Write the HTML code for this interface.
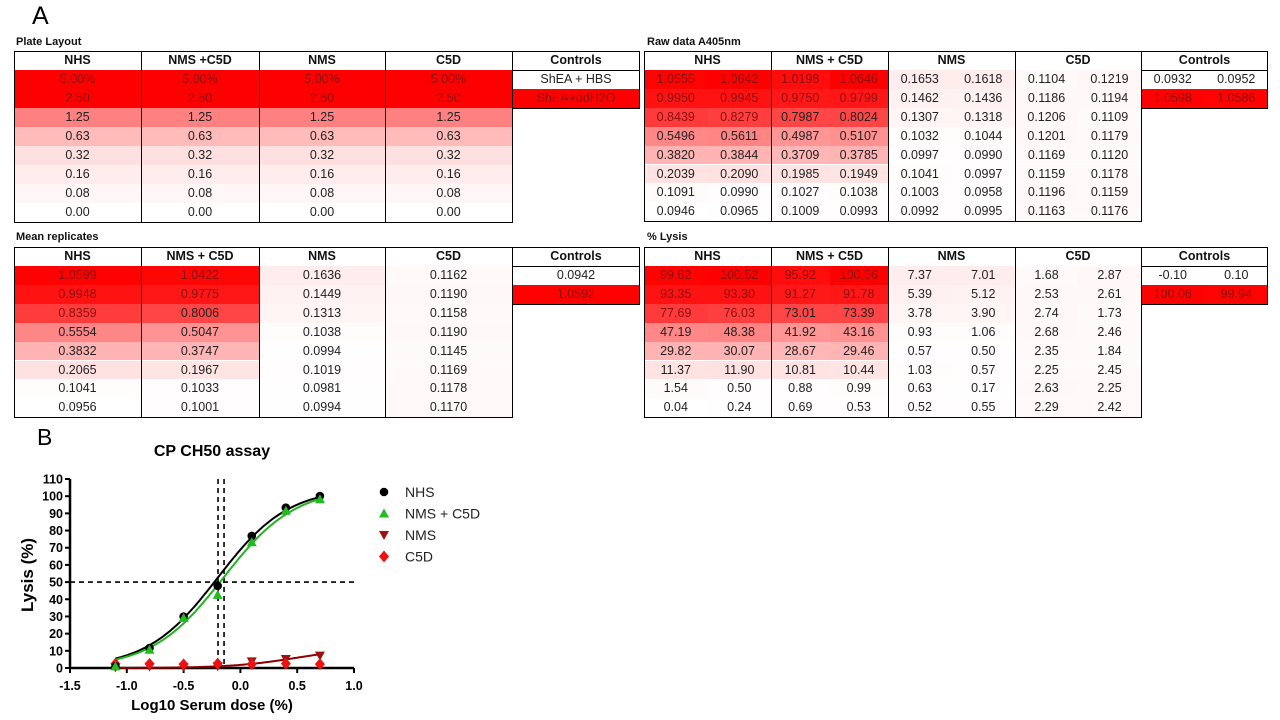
<!DOCTYPE html>
<html><head><meta charset="utf-8">
<style>
body{margin:0;width:1280px;height:720px;background:#fff;position:relative;overflow:hidden;font-family:"Liberation Sans",sans-serif}
.c{position:absolute;box-sizing:border-box;text-align:center;font-size:12.5px;color:#222;line-height:19px;white-space:nowrap}
.h{font-weight:bold;color:#111}
.lbl{position:absolute;font-size:11px;font-weight:bold;color:#111}
.box{position:absolute;border:1px solid #000;box-sizing:border-box;pointer-events:none}
</style></head><body>
<div style="position:absolute;left:32px;top:2px;font-size:25px">A</div>
<div style="position:absolute;left:37px;top:424px;font-size:23px">B</div>
<div class="lbl" style="left:16px;top:36px">Plate Layout</div>
<div class="lbl" style="left:647px;top:36px">Raw data A405nm</div>
<div class="lbl" style="left:16px;top:231px">Mean replicates</div>
<div class="lbl" style="left:647px;top:231px">% Lysis</div>
<div id="tables"></div>

<svg id="chart" width="1280" height="720" style="position:absolute;left:0;top:0" font-family="Liberation Sans, sans-serif"></svg>

<script>
// ---------- table data ----------
const groups = ["NHS","NMS + C5D","NMS","C5D"];
const plateDoses = ["5.00%","2.50","1.25","0.63","0.32","0.16","0.08","0.00"];
const plateShade = [1,1,0.5,0.27,0.12,0.07,0.03,0];
const plateControls = ["ShEA + HBS","ShEA+ddH2O"];
const rawNHS = [[1.0555,1.0642],[0.9950,0.9945],[0.8439,0.8279],[0.5496,0.5611],[0.3820,0.3844],[0.2039,0.2090],[0.1091,0.0990],[0.0946,0.0965]];
const rawNMSC5D = [[1.0198,1.0646],[0.9750,0.9799],[0.7987,0.8024],[0.4987,0.5107],[0.3709,0.3785],[0.1985,0.1949],[0.1027,0.1038],[0.1009,0.0993]];
const rawNMS = [[0.1653,0.1618],[0.1462,0.1436],[0.1307,0.1318],[0.1032,0.1044],[0.0997,0.0990],[0.1041,0.0997],[0.1003,0.0958],[0.0992,0.0995]];
const rawC5D = [[0.1104,0.1219],[0.1186,0.1194],[0.1206,0.1109],[0.1201,0.1179],[0.1169,0.1120],[0.1159,0.1178],[0.1196,0.1159],[0.1163,0.1176]];
const rawControls = [[0.0932,0.0952],[1.0598,1.0586]];
const meanNHS = [1.0599,0.9948,0.8359,0.5554,0.3832,0.2065,0.1041,0.0956];
const meanNMSC5D = [1.0422,0.9775,0.8006,0.5047,0.3747,0.1967,0.1033,0.1001];
const meanNMS = [0.1636,0.1449,0.1313,0.1038,0.0994,0.1019,0.0981,0.0994];
const meanC5D = [0.1162,0.1190,0.1158,0.1190,0.1145,0.1169,0.1178,0.1170];
const meanControls = [0.0942,1.0592];
const lysNHS = [[99.62,100.52],[93.35,93.30],[77.69,76.03],[47.19,48.38],[29.82,30.07],[11.37,11.90],[1.54,0.50],[0.04,0.24]];
const lysNMSC5D = [[95.92,100.56],[91.27,91.78],[73.01,73.39],[41.92,43.16],[28.67,29.46],[10.81,10.44],[0.88,0.99],[0.69,0.53]];
const lysNMS = [[7.37,7.01],[5.39,5.12],[3.78,3.90],[0.93,1.06],[0.57,0.50],[1.03,0.57],[0.63,0.17],[0.52,0.55]];
const lysC5D = [[1.68,2.87],[2.53,2.61],[2.74,1.73],[2.68,2.46],[2.35,1.84],[2.25,2.45],[2.63,2.25],[2.29,2.42]];
const lysControls = [[-0.10,0.10],[100.06,99.94]];

const T = document.getElementById('tables');
function heat(t){t=Math.max(0,Math.min(1,t));const g=Math.round(255*(1-t));return `rgb(255,${g},${g})`;}
function cell(x,y,w,h,txt,bg,name,bold,col){
  const d=document.createElement('div');
  d.className='c'+(bold?' h':'');
  d.style.cssText=`left:${x}px;top:${y}px;width:${w}px;height:${h}px;background:${bg||'transparent'};line-height:${h}px;`+(col?`color:${col};`:'');
  d.textContent=txt;
  
  
  T.appendChild(d);
}
function box(x,y,w,h,name){
  const d=document.createElement('div');d.className='box';
  d.style.cssText=`left:${x}px;top:${y}px;width:${w}px;height:${h}px`;
  
  
  T.appendChild(d);
}
function txtCol(t){return t>0.75?'#8a1010':'#222';}

const colX=[14,141,259,385,512,640];
function singleTable(top,rowH,headers,getVal,getT,ctrl,ctrlT,prefix){
  const hh=19;
  for(let g=0;g<5;g++){
    cell(colX[g],top,colX[g+1]-colX[g],hh,headers[g],'#fff',prefix+'-header-'+g,true);
  }
  for(let r=0;r<8;r++){
    for(let g=0;g<4;g++){
      const t=getT(g,r);
      cell(colX[g],top+hh+r*rowH,colX[g+1]-colX[g],rowH,getVal(g,r),heat(t),prefix+'-cell',false,txtCol(t));
    }
  }
  for(let r=0;r<2;r++){
    cell(colX[4],top+hh+r*rowH,colX[5]-colX[4],rowH,ctrl[r],heat(ctrlT[r]),prefix+'-control-cell',false,txtCol(ctrlT[r]));
  }
  for(let g=0;g<4;g++){box(colX[g],top,colX[g+1]-colX[g]+1,hh+8*rowH+1,prefix+'-column-border');}
  box(colX[4],top,colX[5]-colX[4],hh+1,prefix+'-controls-header-border');
  box(colX[4],top+hh,colX[5]-colX[4],2*rowH+1,prefix+'-controls-border');
}
const hdr=["NHS","NMS +C5D","NMS","C5D","Controls"];
singleTable(51,19,hdr,(g,r)=>plateDoses[r],(g,r)=>plateShade[r],plateControls,[0,1],'plate');
const means=[meanNHS,meanNMSC5D,meanNMS,meanC5D];
const mn=0.0942,mx=1.0646;
singleTable(247,18.9,["NHS","NMS + C5D","NMS","C5D","Controls"],(g,r)=>means[g][r].toFixed(4),(g,r)=>(means[g][r]-mn)/(mx-mn),meanControls.map(v=>v.toFixed(4)),meanControls.map(v=>(v-mn)/(mx-mn)),'mean');

const pX=[644,771,888,1015,1141,1268];
function pairTable(top,rowH,sets,ctrl,lo,hi,dec,prefix){
  const hh=19;
  for(let g=0;g<5;g++) cell(pX[g],top,pX[g+1]-pX[g],hh,["NHS","NMS + C5D","NMS","C5D","Controls"][g],'#fff',prefix+'-header-'+g,true);
  const all=sets.concat([ctrl]);
  for(let g=0;g<5;g++){
    const w=(pX[g+1]-pX[g])/2;
    const rows=g<4?8:2;
    for(let r=0;r<rows;r++)for(let k=0;k<2;k++){
      const v=all[g][r][k];const t=(v-lo)/(hi-lo);
      cell(pX[g]+k*w,top+hh+r*rowH,w,rowH,v.toFixed(dec),heat(t),prefix+'-cell',false,txtCol(t));
    }
  }
  for(let g=0;g<4;g++) box(pX[g],top,pX[g+1]-pX[g]+1,hh+8*rowH+1,prefix+'-column-border');
  box(pX[4],top,pX[5]-pX[4],hh+1,prefix+'-controls-header-border');
  box(pX[4],top+hh,pX[5]-pX[4],2*rowH+1,prefix+'-controls-border');
}
pairTable(51,18.9,[rawNHS,rawNMSC5D,rawNMS,rawC5D],rawControls,0.0932,1.0646,4,'raw');
pairTable(247,18.9,[lysNHS,lysNMSC5D,lysNMS,lysC5D],lysControls,-0.1,100.56,2,'lysis');
</script>

<script>
// ---------- chart data ----------
const xDoses = [-1.1,-0.8,-0.5,-0.2,0.1,0.4,0.7];
const nhsLysis = [1.02,11.64,29.95,47.79,76.85,93.33,100.07];
const nmsC5dLysis = [0.94,10.63,29.07,42.54,73.20,91.53,98.24];
const nmsLysis = [0.40,0.80,0.54,1.00,3.84,5.26,7.19];
const c5dLysis = [2.44,2.40,2.10,2.57,2.24,2.57,2.28];
// 4PL fit params: [bottom, top, logEC50, hill]
const nhsFit = [0,105,-0.2,1.4];
const nmsC5dFit = [0,105,-0.15,1.38];
const nmsFit = [0,12,0.5,1.5];
const ec50Lines = [-0.197,-0.144];
const xTicks = [-1.5,-1.0,-0.5,0.0,0.5,1.0];
const yTicks = [0,10,20,30,40,50,60,70,80,90,100,110];

const svg=document.getElementById('chart');
const NS='http://www.w3.org/2000/svg';
const X0=70,X1=354,Y0=668,Y1=479;
const sx=v=>X0+(v-(-1.5))/(2.5)*(X1-X0);
const sy=v=>Y0-v/110*(Y0-Y1);
function el(tag,attrs,name,txt){const e=document.createElementNS(NS,tag);for(const k in attrs)e.setAttribute(k,attrs[k]);
  
  
  if(txt!==undefined)e.textContent=txt;svg.appendChild(e);return e;}
el('text',{x:212,y:456,'text-anchor':'middle','font-size':16,'font-weight':'bold'},'chart-title','CP CH50 assay');
el('line',{x1:X0,y1:Y0,x2:X1,y2:Y0,stroke:'#000','stroke-width':2.5},'x-axis');
el('line',{x1:X0,y1:Y0+1,x2:X0,y2:Y1,stroke:'#000','stroke-width':2.5},'y-axis');
yTicks.forEach(t=>{el('line',{x1:X0-5,y1:sy(t),x2:X0,y2:sy(t),stroke:'#000','stroke-width':2},'y-tick');
  el('text',{x:X0-7,y:sy(t)+4.5,'text-anchor':'end','font-size':12.5,'font-weight':'bold'},'y-tick-label',String(t));});
xTicks.forEach(t=>{el('line',{x1:sx(t),y1:Y0,x2:sx(t),y2:Y0+5,stroke:'#000','stroke-width':2},'x-tick');
  el('text',{x:sx(t),y:Y0+22,'text-anchor':'middle','font-size':12.5,'font-weight':'bold'},'x-tick-label',t.toFixed(1));});
el('text',{x:212,y:710,'text-anchor':'middle','font-size':15,'font-weight':'bold'},'x-axis-title','Log10 Serum dose (%)');
el('text',{x:33,y:575,'text-anchor':'middle','font-size':17,'font-weight':'bold',transform:'rotate(-90 33 575)'},'y-axis-title','Lysis (%)');
el('line',{x1:X0,y1:sy(50),x2:357,y2:sy(50),stroke:'#000','stroke-width':1.6,'stroke-dasharray':'5,4'},'ch50-horizontal-line');
ec50Lines.forEach(v=>el('line',{x1:sx(v),y1:Y1,x2:sx(v),y2:Y0,stroke:'#000','stroke-width':1.6,'stroke-dasharray':'5,4'},'ec50-vertical-line'));
function curve(p,color,name){let d='';for(let i=0;i<=90;i++){const x=-1.1+i*1.8/90;const y=p[0]+(p[1]-p[0])/(1+Math.pow(10,(p[2]-x)*p[3]));d+=(i?'L':'M')+sx(x).toFixed(1)+','+sy(y).toFixed(1);}
  el('path',{d:d,fill:'none',stroke:color,'stroke-width':2},name);}
curve(nmsFit,'#8b0000','nms-fit-curve');
curve(nhsFit,'#000','nhs-fit-curve');
curve(nmsC5dFit,'#1fb51f','nms-c5d-fit-curve');
function marker(type,cx,cy,color,name){
  if(type==='circle') el('circle',{cx:cx,cy:cy,r:4.3,fill:color},name);
  else if(type==='up') el('polygon',{points:`${cx},${cy-5} ${cx-5},${cy+4} ${cx+5},${cy+4}`,fill:color},name);
  else if(type==='down') el('polygon',{points:`${cx},${cy+5} ${cx-5},${cy-4} ${cx+5},${cy-4}`,fill:color},name);
  else el('polygon',{points:`${cx},${cy-6} ${cx+5},${cy} ${cx},${cy+6} ${cx-5},${cy}`,fill:color},name);
}
xDoses.forEach((x,i)=>marker('down',sx(x),sy(nmsLysis[i]),'#a01010','nms-point'));
xDoses.forEach((x,i)=>marker('diamond',sx(x),sy(c5dLysis[i]),'#ee1111','c5d-point'));
xDoses.forEach((x,i)=>marker('circle',sx(x),sy(nhsLysis[i]),'#000','nhs-point'));
xDoses.forEach((x,i)=>marker('up',sx(x),sy(nmsC5dLysis[i]),'#22bb22','nms-c5d-point'));
const legNames=["NHS","NMS + C5D","NMS","C5D"];
const legTypes=['circle','up','down','diamond'];
const legColors=['#000','#22bb22','#a01010','#ee1111'];
legNames.forEach((n,i)=>{const y=492+i*21.5;marker(legTypes[i],384,y,legColors[i],'legend-marker');
  el('text',{x:405,y:y+5,'font-size':14,fill:'#222'},'legend-entry',n);});
</script>
</body></html>
